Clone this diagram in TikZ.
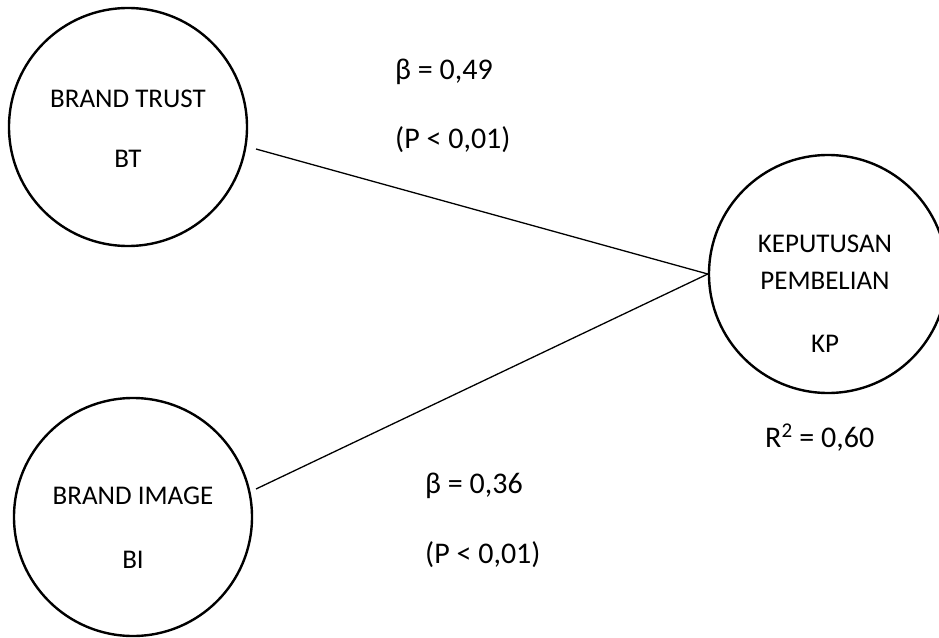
\documentclass[tikz,border=0pt]{standalone}
\usepackage{fontspec}
\setmainfont{Carlito}
\begin{document}
\begin{tikzpicture}[x=1pt,y=-1pt,
  construct/.style={draw=black, line width=2.4pt, circle, minimum size=238pt, inner sep=0pt},
  path/.style={draw=black, line width=1.3pt},
  lbl/.style={font=\fontsize{27}{30}\selectfont, anchor=base, inner sep=0pt},
  stat/.style={font=\fontsize{30}{34}\selectfont, anchor=base west, inner sep=0pt}]
\useasboundingbox (0,0) rectangle (939,637);
% constructs
\node[construct] (BT) at (128,127) {};
\node[construct] (BI) at (133,517) {};
\node[construct] (KP) at (828,274) {};
% labels inside constructs
\node[lbl] (btname) at (128,107) {BRAND TRUST};
\node[lbl] (btcode) at (128,167) {BT};
\node[lbl] (biname) at (133,504) {BRAND IMAGE};
\node[lbl] (bicode) at (133,568) {BI};
\node[lbl] (kpname1) at (825,252) {KEPUTUSAN};
\node[lbl] (kpname2) at (825,289) {PEMBELIAN};
\node[lbl] (kpcode) at (825,352) {KP};
% connectors
\coordinate (btout) at (256,149);
\coordinate (biout) at (256,489);
\draw[path] (btout) -- (KP.west);
\draw[path] (biout) -- (KP.west);
% statistics
\node[stat] (b1) at (395,79) {β = 0,49};
\node[stat] (p1) at (395,148) {(P < 0,01)};
\node[stat] (b2) at (425,493) {β = 0,36};
\node[stat] (p2) at (425,563) {(P < 0,01)};
\node[stat] (r2) at (765,447) {R\textsuperscript{2} = 0,60};
\end{tikzpicture}
\end{document}
